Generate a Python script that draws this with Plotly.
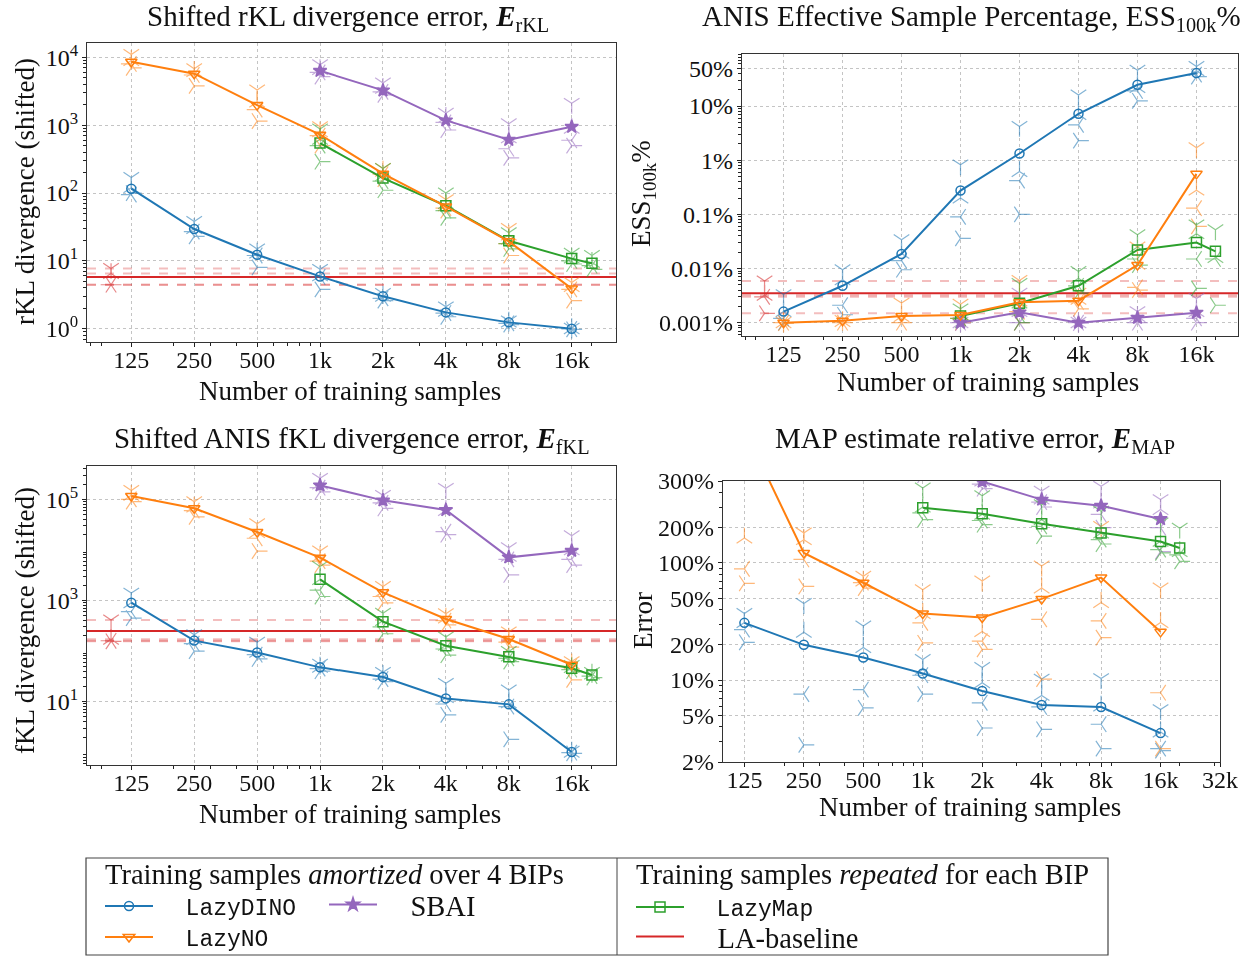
import math
import plotly.graph_objects as go

# ---------------- data ----------------
x_all = [125, 250, 500, 1000, 2000, 4000, 8000, 16000]
x_sbai = [1000, 2000, 4000, 8000, 16000]
x_lazymap = [1000, 2000, 4000, 8000, 16000, 20000]
x_baseline = [100]
x_ticks = [125, 250, 500, 1000, 2000, 4000, 8000, 16000]
x_ticktext = ["125", "250", "500", "1k", "2k", "4k", "8k", "16k"]
x_ticks_map = x_ticks + [32000]
x_ticktext_map = x_ticktext + ["32k"]

# shifted rKL divergence (mean over BIPs, then the four BIPs)
rkl_lazydino = [116, 29.5, 12.3, 5.9, 3.0, 1.74, 1.24, 1.0]
rkl_lazydino_bips = [[170, 120, 95, 100], [38, 30, 27, 23], [15, 13, 12, 8], [7.5, 6, 5.8, 3.8],
                     [3.3, 3.0, 2.8, 2.6], [2.1, 1.8, 1.7, 1.5], [1.3, 1.25, 1.2, 1.15], [1.02, 1.0, 0.99, 0.98]]
rkl_lazyno = [8600, 5740, 1980, 725, 193, 63.5, 19.4, 3.9]
rkl_lazyno_bips = [[11000, 9000, 8000, 7000], [6800, 6200, 5500, 3800], [3300, 2200, 1700, 1150],
                   [950, 800, 700, 500], [230, 210, 190, 160], [80, 65, 60, 55], [30, 24, 18, 12],
                   [4.8, 4.2, 3.8, 2.6]]
rkl_sbai = [6350, 3260, 1180, 611, 950]
rkl_sbai_bips = [[7800, 6600, 6000, 5200], [4200, 3500, 3100, 2800], [1500, 1300, 1100, 850],
                 [1050, 650, 450, 330], [2100, 900, 600, 500]]
rkl_lazymap = [546, 166, 65, 19.8, 10.8, 9.2]
rkl_lazymap_bips = [[880, 620, 500, 290], [230, 180, 150, 110], [100, 70, 55, 43], [26, 21, 18, 15],
                    [13, 11, 10, 9], [12, 9.5, 8.5, 7.5]]
rkl_baseline = 5.78
rkl_baseline_bips = [7.75, 6.5, 4.45, 4.45]

# ANIS effective sample percentage
ess_lazydino = [0.0016, 0.0048, 0.0186, 0.275, 1.33, 7.2, 24.7, 40.6]
ess_lazydino_bips = [[0.0033, 0.0016, 0.0012, 0.001], [0.0095, 0.0062, 0.0021, 0.0014],
                     [0.034, 0.019, 0.014, 0.0095], [0.82, 0.2, 0.09, 0.036], [4.2, 0.62, 0.42, 0.1],
                     [16, 7, 4.5, 2.3], [46, 22, 19, 12.5], [54, 45, 38, 35]]
ess_lazyno = [0.001, 0.00109, 0.00133, 0.00139, 0.00238, 0.00255, 0.0116, 0.56]
ess_lazyno_bips = [[0.00102, 0.001, 0.001, 0.00098], [0.0011, 0.00105, 0.001, 0.001],
                   [0.0023, 0.0013, 0.001, 0.001], [0.0022, 0.0014, 0.0012, 0.001],
                   [0.006, 0.0025, 0.0016, 0.001], [0.0035, 0.0027, 0.0024, 0.0018],
                   [0.025, 0.012, 0.0045, 0.004], [1.7, 0.28, 0.13, 0.06]]
ess_sbai = [0.001, 0.00155, 0.001, 0.00124, 0.00153]
ess_sbai_bips = [[0.00102, 0.001, 0.001, 0.00098], [0.0035, 0.0016, 0.001, 0.001],
                 [0.00102, 0.001, 0.001, 0.00098], [0.0016, 0.0013, 0.001, 0.001],
                 [0.0028, 0.0016, 0.0012, 0.001]]
ess_lazymap = [0.00133, 0.00228, 0.0048, 0.022, 0.0301, 0.0208]
ess_lazymap_bips = [[0.0018, 0.0014, 0.0012, 0.0011], [0.0053, 0.0023, 0.0014, 0.001],
                    [0.0088, 0.0066, 0.0048, 0.0035], [0.042, 0.025, 0.015, 0.0116],
                    [0.064, 0.044, 0.015, 0.0043], [0.052, 0.016, 0.015, 0.0021]]
ess_baseline = 0.00348
ess_baseline_bips = [0.0059, 0.0032, 0.0030, 0.00149]

# shifted ANIS fKL divergence
fkl_lazydino = [906, 161, 94, 47.7, 30.8, 11.6, 8.85, 1.01]
fkl_lazydino_bips = [[1400, 900, 600, 450], [210, 170, 140, 100], [150, 95, 85, 70], [55, 48, 45, 40],
                     [38, 33, 28, 25], [23, 12, 9, 5.5], [17, 9.5, 8, 1.8], [1.05, 1.0, 0.98, 0.95]]
fkl_lazyno = [116000, 66400, 22600, 7030, 1450, 430, 173, 53.8]
fkl_lazyno_bips = [[150000, 120000, 100000, 90000], [90000, 70000, 60000, 45000],
                   [33000, 22000, 17000, 9500], [9500, 7500, 6000, 5000], [1900, 1500, 1200, 900],
                   [550, 450, 400, 330], [240, 180, 150, 120], [62, 56, 50, 27]]
fkl_sbai = [189000, 95500, 61500, 7130, 9660]
fkl_sbai_bips = [[260000, 200000, 170000, 140000], [120000, 100000, 85000, 66000],
                 [165000, 60000, 23000, 20000], [11000, 7500, 6500, 3200], [19000, 10000, 6500, 5000]]
fkl_lazymap = [2620, 381, 128, 77.6, 45.6, 33.7]
fkl_lazymap_bips = [[4700, 2600, 1600, 1200], [560, 400, 300, 220], [190, 130, 110, 83],
                    [98, 80, 72, 62], [52, 47, 43, 40], [38, 35, 32, 30]]
fkl_baseline = 249
fkl_baseline_bips = [412, 171, 160, 156]

# MAP estimate relative error (percent)
map_lazydino = [30.8, 20.0, 15.6, 11.4, 8.06, 6.12, 5.89, 3.53]
map_lazydino_bips = [[37, 31, 27, 21], [45, 25.6, 7.6, 2.8], [29, 19, 8.3, 5.8], [15, 12.3, 11, 7.6],
                     [12.8, 9.5, 6.4, 3.9], [10.2, 7.4, 5.9, 3.8], [10.3, 6, 4.2, 2.6], [5.6, 3.6, 2.6, 2.5]]
map_lazyno = [1390, 121.7, 67.7, 37, 34.2, 49.3, 75, 25.8]
map_lazyno_bips = [[5300, 163, 89, 67], [180, 158, 107, 63], [77, 70, 68, 61], [59, 37, 30.8, 20.8],
                   [70, 26, 21.5, 18.3], [94, 61, 33, 10.2], [205, 46, 32, 23], [61, 31, 7.8, 2.6]]
map_sbai = [725, 495, 347, 308, 237]
map_sbai_bips = [[1000, 800, 620, 560], [600, 500, 470, 430], [410, 350, 330, 300],
                 [450, 324, 260, 200], [347, 285, 200, 125]]
map_lazymap = [296, 263, 216, 180, 152, 134]
map_lazymap_bips = [[436, 300, 267, 234], [375, 260, 230, 212], [314, 234, 205, 169],
                    [276, 180, 158, 145], [219, 153, 130, 122], [198, 125, 117, 103]]

# ---------------- styling ----------------
W, H = 1252, 956
SERIF = "Liberation Serif"
MONO = "Liberation Mono"
C_DINO, C_NO, C_MAP, C_LA, C_SBAI = "#1f77b4", "#ff7f0e", "#2ca02c", "#d62728", "#9467bd"
BIP_SYMBOLS = ["y-down", "y-up", "y-left", "y-right"]
NB = "\u00a0"


def px_x(p):
    return p / W


def px_y(p):
    return 1 - p / H


def log_minors(lo, hi, majors):
    vals = []
    for k in range(-4, 7):
        for m in range(2, 10):
            v = m * 10.0 ** k
            if lo <= v <= hi and all(abs(v - t) / t > 1e-6 for t in majors):
                vals.append(v)
    return vals


fig = go.Figure()

# plot-area boxes in pixels: (left, right, top, bottom)
boxes = {
    1: (87, 616, 43, 342),
    2: (742, 1238, 54, 336),
    3: (87, 616, 466, 765),
    4: (723, 1220, 481, 762),
}
x_range_main = [math.log10(100) - 0.11505, math.log10(20000) + 0.11505]
x_range_map = [math.log10(97.4), math.log10(32000)]

y_specs = {
    1: dict(range=[-0.196, 4.212], tickvals=[1, 10, 100, 1000, 10000],
            ticktext=["10<sup>0</sup>", "10<sup>1</sup>", "10<sup>2</sup>", "10<sup>3</sup>", "10<sup>4</sup>"]),
    2: dict(range=[-3.246, 1.961], tickvals=[0.001, 0.01, 0.1, 1, 10, 50],
            ticktext=["0.001%", "0.01%", "0.1%", "1%", "10%", "50%"]),
    3: dict(range=[-0.252, 5.659], tickvals=[10, 1000, 100000],
            ticktext=["10<sup>1</sup>", "10<sup>3</sup>", "10<sup>5</sup>"]),
    4: dict(range=[math.log10(2), math.log10(500)], tickvals=[2, 5, 10, 20, 50, 100, 200, 500],
            ticktext=["2%", "5%", "10%", "20%", "50%", "100%", "200%", "300%"]),
}

axis_common = dict(type="log", showline=True, mirror=True, linecolor="#333", linewidth=1.2,
                   ticks="outside", ticklen=4, tickwidth=1, tickcolor="#222",
                   showgrid=True, gridcolor="#c4c4c4", griddash="dot", gridwidth=1,
                   zeroline=False, tickfont=dict(family=SERIF, size=24, color="#111"),
                   tickmode="array", automargin=False)

for i, (l, r, t, b) in boxes.items():
    suffix = "" if i == 1 else str(i)
    xr = x_range_map if i == 4 else x_range_main
    xt = x_ticks_map if i == 4 else x_ticks
    xtt = x_ticktext_map if i == 4 else x_ticktext
    ys = y_specs[i]
    fig.layout["xaxis" + suffix] = dict(
        axis_common, domain=[px_x(l), px_x(r)], range=xr, tickvals=xt, ticktext=xtt,
        anchor="y" + suffix, ticklabelstandoff=-8,
        minor=dict(tickvals=log_minors(10 ** xr[0], 10 ** xr[1], xt), ticks="outside",
                   ticklen=2.5, tickcolor="#222", showgrid=False))
    fig.layout["yaxis" + suffix] = dict(
        axis_common, domain=[px_y(b), px_y(t)], range=ys["range"], tickvals=ys["tickvals"],
        ticktext=ys["ticktext"], anchor="x" + suffix, ticklabelstandoff=-1,
        minor=dict(tickvals=log_minors(10 ** ys["range"][0], 10 ** ys["range"][1], ys["tickvals"]),
                   ticks="outside", ticklen=2.5, tickcolor="#222", showgrid=False))


def add_bips(panel, xs, bips, color):
    suffix = "" if panel == 1 else str(panel)
    bx, by, bs = [], [], []
    for xv, vals in zip(xs, bips):
        for j, v in enumerate(vals):
            bx.append(xv)
            by.append(v)
            bs.append(BIP_SYMBOLS[j % 4])
    fig.add_trace(go.Scatter(
        x=bx, y=by, mode="markers", xaxis="x" + suffix, yaxis="y" + suffix, showlegend=False,
        opacity=0.55, hoverinfo="skip",
        marker=dict(symbol=bs, size=13, color=color, line=dict(color=color, width=1.2))))


def add_mean(panel, xs, ys, color, symbol, size, name, legend, show):
    suffix = "" if panel == 1 else str(panel)
    fig.add_trace(go.Scatter(
        x=xs, y=ys, mode="lines+markers", xaxis="x" + suffix, yaxis="y" + suffix,
        name=name, legend=legend, showlegend=show,
        line=dict(color=color, width=2),
        marker=dict(symbol=symbol, size=size, color=color, line=dict(color=color, width=1.5))))


def add_baseline(panel, mean, bips, show):
    suffix = "" if panel == 1 else str(panel)
    edge = [10 ** x_range_main[0], 10 ** x_range_main[1]]
    for v in bips:
        fig.add_trace(go.Scatter(
            x=edge, y=[v, v], mode="lines", xaxis="x" + suffix, yaxis="y" + suffix,
            showlegend=False, hoverinfo="skip",
            line=dict(color="rgba(214,39,40,0.3)", width=2, dash="dash")))
    fig.add_trace(go.Scatter(
        x=edge, y=[mean, mean], mode="lines", xaxis="x" + suffix, yaxis="y" + suffix,
        name=NB * 4 + "LA-baseline", legend="legend4", showlegend=show,
        line=dict(color=C_LA, width=2)))
    add_bips(panel, x_baseline, [bips], C_LA)


panels = [
    (1, rkl_lazydino, rkl_lazydino_bips, rkl_lazyno, rkl_lazyno_bips, rkl_sbai, rkl_sbai_bips,
     rkl_lazymap, rkl_lazymap_bips, (rkl_baseline, rkl_baseline_bips)),
    (2, ess_lazydino, ess_lazydino_bips, ess_lazyno, ess_lazyno_bips, ess_sbai, ess_sbai_bips,
     ess_lazymap, ess_lazymap_bips, (ess_baseline, ess_baseline_bips)),
    (3, fkl_lazydino, fkl_lazydino_bips, fkl_lazyno, fkl_lazyno_bips, fkl_sbai, fkl_sbai_bips,
     fkl_lazymap, fkl_lazymap_bips, (fkl_baseline, fkl_baseline_bips)),
    (4, map_lazydino, map_lazydino_bips, map_lazyno, map_lazyno_bips, map_sbai, map_sbai_bips,
     map_lazymap, map_lazymap_bips, None),
]

for (p, dino, dino_b, no, no_b, sb, sb_b, lm, lm_b, base) in panels:
    first = p == 1
    if base is not None:
        add_baseline(p, base[0], base[1], first)
    add_bips(p, x_all, dino_b, C_DINO)
    add_bips(p, x_all, no_b, C_NO)
    add_bips(p, x_sbai, sb_b, C_SBAI)
    add_bips(p, x_lazymap, lm_b, C_MAP)
    add_mean(p, x_lazymap, lm, C_MAP, "square-open", 10, NB * 2 + "LazyMap", "legend3", first)
    add_mean(p, x_sbai, sb, C_SBAI, "star", 10, NB * 4 + "SBAI", "legend2", first)
    add_mean(p, x_all, no, C_NO, "triangle-down-open", 10, NB * 2 + "LazyNO", "legend5", first)
    add_mean(p, x_all, dino, C_DINO, "circle-open", 9, NB * 2 + "LazyDINO", "legend", first)

# ---------------- text ----------------
ann = []


def text(x, y, s, size=24, angle=0, xanchor="center", family=SERIF):
    ann.append(dict(x=px_x(x), y=px_y(y), xref="paper", yref="paper", text=s, showarrow=False,
                    xanchor=xanchor, yanchor="middle", textangle=angle,
                    font=dict(family=family, size=size, color="#111")))


TITLE, LABEL, LEG = 29, 27, 28.5
text(348, 18, "Shifted rKL divergence error, <b><i>E</i></b><sub>rKL</sub>", TITLE)
text(971, 18, "ANIS Effective Sample Percentage, ESS<sub>100k</sub>%", TITLE)
text(352, 440, "Shifted ANIS fKL divergence error, <b><i>E</i></b><sub>fKL</sub>", TITLE)
text(975, 440, "MAP estimate relative error, <b><i>E</i></b><sub>MAP</sub>", TITLE)
text(350, 391, "Number of training samples", LABEL)
text(988, 382, "Number of training samples", LABEL)
text(350, 814, "Number of training samples", LABEL)
text(970, 807, "Number of training samples", LABEL)
text(25, 192, "rKL divergence (shifted)", LABEL, -90)
text(643, 194, "ESS<sub>100k</sub>%", LABEL, -90)
text(25, 621, "fKL divergence (shifted)", LABEL, -90)
text(643, 621, "Error", LABEL, -90)
text(103, 874, "Training samples <i>amortized</i> over 4 BIPs", LEG, xanchor="left")
text(634, 874, "Training samples <i>repeated</i> for each BIP", LEG, xanchor="left")

shapes = [
    dict(type="rect", xref="paper", yref="paper", x0=px_x(86), x1=px_x(1108), y0=px_y(955),
         y1=px_y(858), line=dict(color="#444", width=1.2), fillcolor="rgba(0,0,0,0)"),
    dict(type="line", xref="paper", yref="paper", x0=px_x(617), x1=px_x(617), y0=px_y(955),
         y1=px_y(858), line=dict(color="#444", width=1)),
]

leg_common = dict(bgcolor="rgba(0,0,0,0)", borderwidth=0, xanchor="left", yanchor="middle",
                  itemwidth=48, tracegroupgap=0, orientation="v")
mono_font = dict(family=MONO, size=23, color="#111")
serif_font = dict(family=SERIF, size=LEG, color="#111")
fig.update_layout(
    width=W, height=H, margin=dict(l=0, r=0, t=0, b=0, autoexpand=False),
    paper_bgcolor="white", plot_bgcolor="white",
    annotations=ann, shapes=shapes,
    legend=dict(leg_common, x=px_x(100), y=px_y(906), font=mono_font),
    legend5=dict(leg_common, x=px_x(100), y=px_y(937), font=mono_font),
    legend2=dict(leg_common, x=px_x(324), y=px_y(905), font=serif_font),
    legend3=dict(leg_common, x=px_x(631), y=px_y(907), font=mono_font),
    legend4=dict(leg_common, x=px_x(631), y=px_y(937), font=serif_font),
)

fig.write_html("out.html")
